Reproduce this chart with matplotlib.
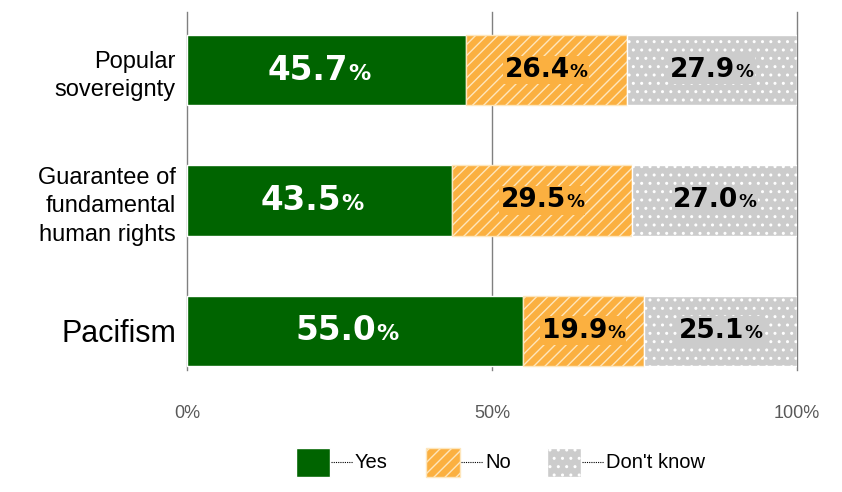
import matplotlib.pyplot as plt
import numpy as np
from matplotlib.patches import Rectangle
from matplotlib.lines import Line2D
from matplotlib.offsetbox import TextArea, HPacker, AnnotationBbox

plt.rcParams['font.family'] = ['Liberation Sans', 'DejaVu Sans']
plt.rcParams['hatch.linewidth'] = 1.0

# data
categories = ['Popular\nsovereignty', 'Guarantee of\nfundamental\nhuman rights', 'Pacifism']
cat_sizes = [17, 17, 22]
yes = [45.7, 43.5, 55.0]
no = [26.4, 29.5, 19.9]
dont_know = [27.9, 27.0, 25.1]
series_names = ['Yes', 'No', "Don't know"]

green = '#006400'
orange = '#FBB040'
grey = '#CCCCCC'
hatch_col = '#FEE6BC'

fig = plt.figure(figsize=(8.42, 4.92), dpi=100)
ax = fig.add_axes([187 / 842, 1 - 370 / 492, 610 / 842, 358 / 492])

y = np.arange(len(categories))
h = 0.54

ax.barh(y, yes, height=h, color=green, edgecolor='white', linewidth=1, zorder=2)
ax.barh(y, no, left=yes, height=h, color=orange, edgecolor=hatch_col, linewidth=1, hatch='///', zorder=2)
left3 = np.array(yes) + np.array(no)
ax.barh(y, dont_know, left=left3, height=h, color=grey, edgecolor='white', linewidth=1, hatch='..', zorder=2)

ax.set_xlim(0, 100)
ax.set_ylim(2.3, -0.445)
ax.set_xticks([0, 50, 100])
ax.set_xticklabels(['0%', '50%', '100%'], color='#595959', fontsize=13)
ax.tick_params(axis='x', length=0, pad=25)
ax.tick_params(axis='y', length=0, pad=8)
ax.set_yticks(y)
ax.set_yticklabels(categories, linespacing=1.38)
for lab, s in zip(ax.get_yticklabels(), cat_sizes):
    lab.set_fontsize(s)
    lab.set_horizontalalignment('right')
for sp in ax.spines.values():
    sp.set_visible(False)
for gx in [0, 50, 100]:
    ax.axvline(gx, color='#808080', linewidth=1, clip_on=False, zorder=0)


def value_label(xc, yc, val, size, tcolor, bg):
    t1 = TextArea(f'{val:.1f}', textprops=dict(fontsize=size, fontweight='bold', color=tcolor, family='DejaVu Sans'))
    t2 = TextArea('%', textprops=dict(fontsize=size * 0.68, fontweight='bold', color=tcolor, family='DejaVu Sans'))
    box = HPacker(children=[t1, t2], align='baseline', pad=0, sep=0)
    ab = AnnotationBbox(box, (xc, yc), frameon=True, pad=0.1,
                        bboxprops=dict(facecolor=bg, edgecolor='none'), zorder=3)
    ax.add_artist(ab)


for i in range(len(categories)):
    value_label(yes[i] / 2 - 1.2, y[i], yes[i], 23.5, 'white', green)
    value_label(yes[i] + no[i] / 2, y[i], no[i], 19, 'black', orange)
    value_label(left3[i] + dont_know[i] / 2, y[i], dont_know[i], 19, 'black', grey)

# legend drawn by hand
colors = [green, orange, grey]
hatches = [None, '///', '..']
edges = ['white', hatch_col, 'white']
legend_x = [296, 426, 547]
for name, c, ht, ec, lx in zip(series_names, colors, hatches, edges, legend_x):
    r = Rectangle((lx / 842, 1 - 477 / 492), 34 / 842, 29 / 492, transform=fig.transFigure,
                  facecolor=c, edgecolor=ec, linewidth=1, hatch=ht)
    fig.add_artist(r)
    ly = 1 - 462 / 492
    fig.add_artist(Line2D([(lx + 35) / 842, (lx + 57) / 842], [ly, ly], transform=fig.transFigure,
                          color='black', linewidth=0.8, linestyle=(0, (1, 1))))
    fig.text((lx + 59) / 842, ly, name, fontsize=14.5, va='center', ha='left')

fig.savefig('out.png', dpi=100)
